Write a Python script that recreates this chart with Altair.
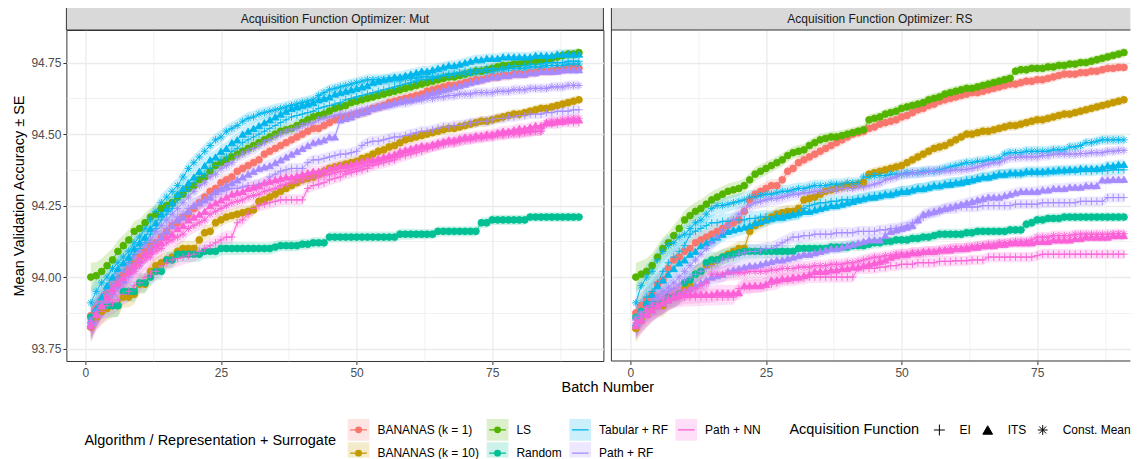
import altair as alt
import pandas as pd

# ---------------- data ----------------
batches = list(range(1, 92))
strip_labels = {"Mut": "Acquisition Function Optimizer: Mut", "RS": "Acquisition Function Optimizer: RS"}
algorithms = ["BANANAS (k = 1)", "BANANAS (k = 10)", "LS", "Random", "Tabular + RF", "Path + RF", "Path + NN"]
colors = ["#F8766D", "#C49A00", "#53B400", "#00C094", "#00B6EB", "#A58AFF", "#FB61D7"]
acq_functions = ["EI", "ITS", "Const. Mean"]
x_ticks = [0, 25, 50, 75]
x_minor = [12.5, 37.5, 62.5, 87.5]
y_ticks = [93.75, 94.0, 94.25, 94.5, 94.75]
y_minor = [93.875, 94.125, 94.375, 94.625]

se = [0.050, 0.047, 0.045, 0.043, 0.041, 0.039, 0.037, 0.036, 0.035, 0.034,
      0.033, 0.032, 0.031, 0.030, 0.029, 0.029, 0.028, 0.027, 0.027, 0.026,
      0.026, 0.025, 0.025, 0.024, 0.024, 0.023, 0.023, 0.023, 0.022, 0.022,
      0.022, 0.021, 0.021, 0.021, 0.021, 0.020, 0.020, 0.020, 0.020, 0.020,
      0.019, 0.019, 0.019, 0.019, 0.019, 0.019, 0.019, 0.019, 0.019, 0.019,
      0.019, 0.019, 0.019, 0.019, 0.019, 0.019, 0.019, 0.019, 0.019, 0.019,
      0.018, 0.018, 0.018, 0.018, 0.018, 0.018, 0.018, 0.018, 0.018, 0.018,
      0.018, 0.018, 0.018, 0.018, 0.018, 0.018, 0.018, 0.018, 0.018, 0.018,
      0.017, 0.017, 0.017, 0.017, 0.017, 0.017, 0.017, 0.017, 0.017, 0.017, 0.017]

# ---- optimizer: Mut ----
mut_bananas1 = [93.865, 93.89, 93.92, 93.94, 93.97, 93.99, 94.01, 94.03, 94.05, 94.07,
    94.09, 94.11, 94.12, 94.14, 94.16, 94.18, 94.19, 94.21, 94.22, 94.24,
    94.26, 94.28, 94.30, 94.31, 94.33, 94.34, 94.35, 94.37, 94.38, 94.39,
    94.40, 94.41, 94.43, 94.44, 94.45, 94.46, 94.47, 94.48, 94.49, 94.50,
    94.51, 94.52, 94.52, 94.53, 94.54, 94.55, 94.555, 94.56, 94.565, 94.57,
    94.575, 94.58, 94.59, 94.595, 94.60, 94.61, 94.615, 94.62, 94.625, 94.63,
    94.635, 94.64, 94.65, 94.655, 94.66, 94.665, 94.67, 94.67, 94.675, 94.68,
    94.685, 94.69, 94.69, 94.695, 94.70, 94.70, 94.705, 94.705, 94.71, 94.71,
    94.71, 94.715, 94.715, 94.72, 94.72, 94.72, 94.725, 94.725, 94.73, 94.73, 94.73]
mut_bananas10 = [93.825, 93.86, 93.88, 93.89, 93.90, 93.90, 93.93, 93.93, 93.94, 93.975,
    93.975, 94.02, 94.04, 94.05, 94.06, 94.07, 94.09, 94.10, 94.10, 94.10,
    94.13, 94.155, 94.16, 94.19, 94.20, 94.21, 94.215, 94.22, 94.225, 94.23,
    94.235, 94.265, 94.27, 94.28, 94.29, 94.30, 94.31, 94.32, 94.33, 94.34,
    94.345, 94.35, 94.36, 94.37, 94.38, 94.385, 94.39, 94.395, 94.40, 94.405,
    94.415, 94.42, 94.43, 94.44, 94.445, 94.455, 94.46, 94.47, 94.48, 94.485,
    94.49, 94.495, 94.50, 94.505, 94.51, 94.515, 94.52, 94.52, 94.525, 94.53,
    94.535, 94.54, 94.545, 94.545, 94.55, 94.555, 94.56, 94.565, 94.57, 94.57,
    94.575, 94.58, 94.585, 94.59, 94.59, 94.595, 94.60, 94.605, 94.61, 94.615, 94.62]
mut_ls = [94.00, 94.005, 94.02, 94.04, 94.06, 94.09, 94.11, 94.13, 94.16, 94.17,
    94.19, 94.21, 94.22, 94.24, 94.25, 94.26, 94.28, 94.29, 94.31, 94.32,
    94.34, 94.35, 94.37, 94.39, 94.40, 94.41, 94.42, 94.43, 94.44, 94.45,
    94.46, 94.47, 94.48, 94.49, 94.50, 94.51, 94.515, 94.52, 94.53, 94.54,
    94.55, 94.56, 94.565, 94.57, 94.58, 94.59, 94.595, 94.60, 94.61, 94.615,
    94.62, 94.625, 94.63, 94.635, 94.64, 94.645, 94.65, 94.655, 94.66, 94.665,
    94.67, 94.675, 94.68, 94.685, 94.69, 94.695, 94.70, 94.70, 94.705, 94.71,
    94.715, 94.72, 94.72, 94.725, 94.73, 94.735, 94.74, 94.74, 94.745, 94.745,
    94.75, 94.755, 94.755, 94.76, 94.76, 94.765, 94.77, 94.775, 94.78, 94.78, 94.785]
mut_random = [93.86, 93.88, 93.90, 93.90, 93.90, 93.90, 93.95, 93.95, 93.95, 93.98,
    93.98, 94.00, 94.02, 94.02, 94.06, 94.06, 94.08, 94.08, 94.08, 94.08,
    94.08, 94.09, 94.09, 94.09, 94.10, 94.10, 94.10, 94.10, 94.10, 94.10,
    94.10, 94.10, 94.10, 94.10, 94.105, 94.11, 94.11, 94.11, 94.11, 94.115,
    94.115, 94.12, 94.12, 94.12, 94.14, 94.14, 94.14, 94.14, 94.14, 94.14,
    94.14, 94.14, 94.14, 94.14, 94.14, 94.14, 94.14, 94.15, 94.15, 94.15,
    94.15, 94.15, 94.15, 94.15, 94.16, 94.16, 94.16, 94.16, 94.16, 94.16,
    94.16, 94.16, 94.19, 94.19, 94.20, 94.20, 94.20, 94.20, 94.20, 94.20,
    94.20, 94.21, 94.21, 94.21, 94.21, 94.21, 94.21, 94.21, 94.21, 94.21, 94.21]
mut_tab_ei = [93.83, 93.87, 93.90, 93.94, 93.97, 94.00, 94.02, 94.05, 94.08, 94.10,
    94.12, 94.15, 94.17, 94.20, 94.22, 94.24, 94.27, 94.29, 94.31, 94.33,
    94.35, 94.36, 94.38, 94.39, 94.41, 94.42, 94.44, 94.45, 94.47, 94.48,
    94.49, 94.50, 94.51, 94.52, 94.53, 94.54, 94.55, 94.56, 94.565, 94.57,
    94.575, 94.58, 94.59, 94.595, 94.60, 94.605, 94.61, 94.62, 94.625, 94.63,
    94.635, 94.64, 94.645, 94.65, 94.655, 94.66, 94.665, 94.67, 94.675, 94.68,
    94.685, 94.69, 94.69, 94.695, 94.70, 94.705, 94.71, 94.71, 94.715, 94.72,
    94.72, 94.725, 94.725, 94.73, 94.73, 94.73, 94.735, 94.735, 94.74, 94.74,
    94.74, 94.745, 94.745, 94.745, 94.75, 94.75, 94.75, 94.75, 94.755, 94.755, 94.755]
mut_tab_its = [93.85, 93.89, 93.93, 93.97, 94.00, 94.03, 94.05, 94.07, 94.10, 94.12,
    94.14, 94.17, 94.19, 94.22, 94.24, 94.26, 94.29, 94.31, 94.33, 94.35,
    94.37, 94.39, 94.41, 94.42, 94.44, 94.45, 94.47, 94.48, 94.50, 94.51,
    94.52, 94.53, 94.54, 94.55, 94.56, 94.57, 94.58, 94.59, 94.595, 94.60,
    94.605, 94.61, 94.62, 94.625, 94.63, 94.64, 94.645, 94.65, 94.655, 94.66,
    94.665, 94.67, 94.68, 94.685, 94.69, 94.695, 94.70, 94.70, 94.705, 94.71,
    94.715, 94.72, 94.72, 94.725, 94.73, 94.735, 94.74, 94.74, 94.745, 94.75,
    94.755, 94.76, 94.76, 94.765, 94.765, 94.765, 94.77, 94.77, 94.77, 94.77,
    94.77, 94.77, 94.775, 94.775, 94.775, 94.775, 94.78, 94.78, 94.78, 94.78, 94.78]
mut_tab_cm = [93.91, 93.95, 93.98, 94.00, 94.03, 94.05, 94.07, 94.09, 94.12, 94.14,
    94.17, 94.20, 94.23, 94.26, 94.28, 94.30, 94.32, 94.35, 94.38, 94.40,
    94.42, 94.44, 94.46, 94.48, 94.49, 94.51, 94.52, 94.53, 94.545, 94.555,
    94.56, 94.57, 94.575, 94.58, 94.585, 94.59, 94.595, 94.60, 94.605, 94.61,
    94.615, 94.62, 94.635, 94.645, 94.655, 94.66, 94.665, 94.67, 94.675, 94.68,
    94.685, 94.69, 94.69, 94.69, 94.69, 94.69, 94.69, 94.69, 94.695, 94.695,
    94.695, 94.70, 94.70, 94.70, 94.70, 94.705, 94.705, 94.71, 94.71, 94.71,
    94.715, 94.715, 94.72, 94.72, 94.72, 94.725, 94.725, 94.73, 94.73, 94.73,
    94.73, 94.735, 94.735, 94.735, 94.74, 94.74, 94.74, 94.74, 94.745, 94.745, 94.745]
mut_prf_ei = [93.84, 93.87, 93.90, 93.92, 93.94, 93.96, 93.98, 94.00, 94.03, 94.05,
    94.08, 94.10, 94.12, 94.15, 94.17, 94.19, 94.21, 94.22, 94.24, 94.25,
    94.26, 94.27, 94.28, 94.29, 94.30, 94.305, 94.31, 94.31, 94.315, 94.32,
    94.32, 94.325, 94.33, 94.35, 94.36, 94.37, 94.375, 94.38, 94.38, 94.38,
    94.40, 94.41, 94.41, 94.415, 94.42, 94.425, 94.43, 94.43, 94.435, 94.44,
    94.46, 94.47, 94.475, 94.475, 94.48, 94.485, 94.49, 94.49, 94.495, 94.50,
    94.505, 94.51, 94.51, 94.515, 94.52, 94.525, 94.525, 94.53, 94.53, 94.535,
    94.54, 94.54, 94.545, 94.545, 94.55, 94.555, 94.555, 94.56, 94.56, 94.565,
    94.565, 94.57, 94.57, 94.57, 94.575, 94.575, 94.58, 94.58, 94.58, 94.585, 94.585]
mut_prf_its = [93.84, 93.87, 93.90, 93.92, 93.95, 93.97, 93.99, 94.02, 94.04, 94.06,
    94.08, 94.10, 94.12, 94.14, 94.16, 94.18, 94.20, 94.21, 94.23, 94.25,
    94.26, 94.27, 94.28, 94.30, 94.31, 94.32, 94.33, 94.34, 94.35, 94.36,
    94.37, 94.38, 94.385, 94.39, 94.40, 94.41, 94.42, 94.43, 94.44, 94.45,
    94.46, 94.47, 94.475, 94.48, 94.49, 94.49, 94.55, 94.555, 94.56, 94.57,
    94.575, 94.58, 94.59, 94.595, 94.60, 94.605, 94.61, 94.615, 94.62, 94.62,
    94.625, 94.63, 94.64, 94.645, 94.65, 94.655, 94.66, 94.665, 94.67, 94.675,
    94.68, 94.685, 94.69, 94.695, 94.70, 94.70, 94.705, 94.705, 94.71, 94.71,
    94.71, 94.715, 94.715, 94.72, 94.72, 94.72, 94.72, 94.725, 94.725, 94.725, 94.725]
mut_prf_cm = [93.85, 93.88, 93.91, 93.94, 93.97, 93.99, 94.02, 94.04, 94.07, 94.09,
    94.11, 94.13, 94.16, 94.18, 94.20, 94.22, 94.24, 94.26, 94.28, 94.30,
    94.32, 94.33, 94.35, 94.36, 94.38, 94.39, 94.40, 94.42, 94.43, 94.44,
    94.45, 94.46, 94.47, 94.48, 94.49, 94.50, 94.51, 94.515, 94.52, 94.53,
    94.535, 94.54, 94.55, 94.555, 94.56, 94.565, 94.57, 94.57, 94.575, 94.58,
    94.585, 94.59, 94.59, 94.595, 94.60, 94.60, 94.605, 94.61, 94.61, 94.615,
    94.62, 94.62, 94.625, 94.625, 94.63, 94.63, 94.635, 94.635, 94.64, 94.64,
    94.64, 94.645, 94.645, 94.645, 94.645, 94.65, 94.65, 94.65, 94.655, 94.655,
    94.655, 94.66, 94.66, 94.66, 94.66, 94.665, 94.665, 94.665, 94.67, 94.67, 94.67]
mut_pnn_ei = [93.82, 93.86, 93.88, 93.90, 93.91, 93.92, 93.94, 93.95, 93.97, 93.98,
    94.00, 94.01, 94.02, 94.04, 94.05, 94.06, 94.065, 94.07, 94.075, 94.08,
    94.09, 94.10, 94.11, 94.12, 94.13, 94.14, 94.14, 94.19, 94.20, 94.22,
    94.24, 94.25, 94.255, 94.26, 94.265, 94.27, 94.27, 94.27, 94.27, 94.27,
    94.31, 94.32, 94.325, 94.33, 94.34, 94.345, 94.35, 94.36, 94.365, 94.37,
    94.375, 94.38, 94.39, 94.395, 94.40, 94.405, 94.41, 94.42, 94.425, 94.43,
    94.435, 94.44, 94.45, 94.455, 94.46, 94.465, 94.47, 94.47, 94.475, 94.48,
    94.485, 94.485, 94.49, 94.49, 94.495, 94.50, 94.50, 94.50, 94.505, 94.505,
    94.505, 94.51, 94.51, 94.51, 94.535, 94.535, 94.535, 94.54, 94.54, 94.54, 94.54]
mut_pnn_its = [93.83, 93.87, 93.90, 93.93, 93.96, 93.98, 94.00, 94.02, 94.04, 94.06,
    94.08, 94.09, 94.11, 94.12, 94.14, 94.15, 94.17, 94.18, 94.20, 94.21,
    94.22, 94.23, 94.25, 94.26, 94.27, 94.28, 94.29, 94.295, 94.30, 94.31,
    94.315, 94.32, 94.33, 94.335, 94.34, 94.345, 94.35, 94.35, 94.355, 94.36,
    94.365, 94.37, 94.37, 94.375, 94.38, 94.385, 94.39, 94.39, 94.395, 94.40,
    94.405, 94.41, 94.41, 94.415, 94.42, 94.425, 94.43, 94.44, 94.445, 94.45,
    94.455, 94.46, 94.46, 94.465, 94.47, 94.475, 94.48, 94.48, 94.485, 94.49,
    94.49, 94.495, 94.495, 94.50, 94.50, 94.505, 94.51, 94.51, 94.515, 94.52,
    94.52, 94.525, 94.53, 94.53, 94.54, 94.54, 94.545, 94.545, 94.55, 94.55, 94.55]
mut_pnn_cm = [93.84, 93.87, 93.90, 93.92, 93.95, 93.97, 93.99, 94.01, 94.02, 94.04,
    94.06, 94.07, 94.09, 94.10, 94.12, 94.13, 94.14, 94.15, 94.17, 94.18,
    94.19, 94.20, 94.22, 94.23, 94.24, 94.25, 94.26, 94.265, 94.27, 94.28,
    94.285, 94.29, 94.30, 94.305, 94.31, 94.32, 94.325, 94.33, 94.335, 94.34,
    94.345, 94.35, 94.35, 94.355, 94.36, 94.365, 94.37, 94.37, 94.375, 94.38,
    94.385, 94.39, 94.40, 94.405, 94.41, 94.415, 94.42, 94.43, 94.435, 94.44,
    94.445, 94.45, 94.45, 94.455, 94.46, 94.465, 94.47, 94.47, 94.475, 94.48,
    94.48, 94.485, 94.485, 94.49, 94.49, 94.495, 94.495, 94.50, 94.50, 94.50,
    94.505, 94.505, 94.51, 94.51, 94.54, 94.545, 94.545, 94.55, 94.55, 94.555, 94.555]

# ---- optimizer: RS ----
rs_bananas1 = [93.875, 93.90, 93.92, 93.94, 93.975, 93.99, 94.03, 94.06, 94.07, 94.09,
    94.10, 94.12, 94.13, 94.14, 94.15, 94.16, 94.17, 94.18, 94.19, 94.20,
    94.23, 94.27, 94.29, 94.30, 94.31, 94.32, 94.32, 94.34, 94.37, 94.38,
    94.40, 94.41, 94.42, 94.43, 94.44, 94.45, 94.46, 94.47, 94.48, 94.49,
    94.50, 94.505, 94.51, 94.52, 94.525, 94.535, 94.54, 94.545, 94.55, 94.56,
    94.565, 94.575, 94.585, 94.59, 94.60, 94.605, 94.615, 94.62, 94.625, 94.63,
    94.635, 94.64, 94.645, 94.645, 94.65, 94.655, 94.66, 94.665, 94.67, 94.675,
    94.675, 94.68, 94.685, 94.685, 94.69, 94.69, 94.695, 94.70, 94.705, 94.71,
    94.71, 94.71, 94.715, 94.715, 94.72, 94.72, 94.725, 94.73, 94.73, 94.733, 94.733]
rs_bananas10 = [93.82, 93.85, 93.87, 93.89, 93.90, 93.90, 93.92, 93.93, 93.94, 93.96,
    93.97, 94.01, 94.02, 94.04, 94.05, 94.06, 94.07, 94.08, 94.09, 94.10,
    94.10, 94.16, 94.18, 94.19, 94.20, 94.21, 94.22, 94.225, 94.23, 94.23,
    94.24, 94.27, 94.275, 94.28, 94.29, 94.30, 94.305, 94.31, 94.315, 94.32,
    94.32, 94.325, 94.33, 94.36, 94.365, 94.37, 94.375, 94.38, 94.385, 94.39,
    94.40, 94.41, 94.42, 94.43, 94.44, 94.45, 94.455, 94.46, 94.47, 94.48,
    94.49, 94.50, 94.50, 94.505, 94.51, 94.51, 94.515, 94.52, 94.525, 94.53,
    94.53, 94.535, 94.54, 94.545, 94.55, 94.55, 94.555, 94.56, 94.565, 94.57,
    94.57, 94.575, 94.58, 94.585, 94.59, 94.595, 94.60, 94.605, 94.61, 94.615, 94.62]
rs_ls = [94.00, 94.01, 94.02, 94.04, 94.07, 94.10, 94.12, 94.145, 94.17, 94.20,
    94.215, 94.23, 94.24, 94.255, 94.27, 94.28, 94.29, 94.30, 94.305, 94.31,
    94.32, 94.34, 94.36, 94.37, 94.38, 94.39, 94.40, 94.41, 94.425, 94.435,
    94.44, 94.445, 94.46, 94.47, 94.48, 94.485, 94.49, 94.49, 94.495, 94.50,
    94.505, 94.51, 94.515, 94.55, 94.555, 94.56, 94.57, 94.575, 94.58, 94.59,
    94.595, 94.60, 94.605, 94.61, 94.62, 94.625, 94.63, 94.64, 94.645, 94.65,
    94.655, 94.66, 94.66, 94.665, 94.67, 94.675, 94.68, 94.685, 94.69, 94.695,
    94.72, 94.725, 94.725, 94.73, 94.73, 94.73, 94.735, 94.735, 94.74, 94.74,
    94.745, 94.745, 94.75, 94.75, 94.755, 94.76, 94.765, 94.77, 94.775, 94.78, 94.785]
rs_random = [93.86, 93.88, 93.905, 93.905, 93.905, 93.91, 93.93, 93.93, 93.94, 93.98,
    93.99, 94.01, 94.02, 94.05, 94.06, 94.06, 94.07, 94.075, 94.08, 94.085,
    94.09, 94.09, 94.09, 94.09, 94.09, 94.09, 94.09, 94.09, 94.09, 94.09,
    94.10, 94.10, 94.10, 94.10, 94.10, 94.10, 94.105, 94.105, 94.105, 94.105,
    94.11, 94.11, 94.11, 94.115, 94.12, 94.12, 94.125, 94.125, 94.13, 94.13,
    94.13, 94.135, 94.135, 94.14, 94.14, 94.145, 94.15, 94.15, 94.15, 94.15,
    94.15, 94.155, 94.155, 94.16, 94.16, 94.16, 94.16, 94.16, 94.16, 94.165,
    94.165, 94.165, 94.185, 94.19, 94.20, 94.20, 94.205, 94.205, 94.205, 94.21,
    94.21, 94.21, 94.21, 94.21, 94.21, 94.21, 94.21, 94.21, 94.21, 94.21, 94.21]
rs_tab_ei = [93.83, 93.88, 93.93, 93.95, 93.98, 94.02, 94.05, 94.07, 94.09, 94.11,
    94.15, 94.16, 94.17, 94.18, 94.19, 94.19, 94.195, 94.195, 94.20, 94.20,
    94.20, 94.205, 94.205, 94.21, 94.21, 94.21, 94.215, 94.215, 94.22, 94.22,
    94.22, 94.24, 94.25, 94.255, 94.26, 94.26, 94.265, 94.265, 94.27, 94.27,
    94.27, 94.275, 94.275, 94.28, 94.285, 94.285, 94.29, 94.29, 94.295, 94.30,
    94.30, 94.305, 94.31, 94.31, 94.315, 94.32, 94.32, 94.325, 94.33, 94.33,
    94.335, 94.34, 94.34, 94.345, 94.35, 94.35, 94.355, 94.36, 94.36, 94.36,
    94.36, 94.36, 94.365, 94.365, 94.365, 94.365, 94.365, 94.37, 94.37, 94.37,
    94.37, 94.37, 94.37, 94.37, 94.37, 94.372, 94.372, 94.372, 94.375, 94.375, 94.375]
rs_tab_its = [93.84, 93.87, 93.91, 93.94, 93.97, 93.99, 94.01, 94.03, 94.05, 94.06,
    94.08, 94.09, 94.11, 94.12, 94.13, 94.14, 94.15, 94.16, 94.165, 94.17,
    94.175, 94.18, 94.19, 94.195, 94.20, 94.205, 94.21, 94.21, 94.215, 94.22,
    94.225, 94.23, 94.23, 94.235, 94.24, 94.245, 94.25, 94.25, 94.255, 94.26,
    94.265, 94.27, 94.275, 94.28, 94.28, 94.285, 94.29, 94.29, 94.295, 94.30,
    94.30, 94.305, 94.31, 94.31, 94.315, 94.32, 94.32, 94.325, 94.325, 94.33,
    94.33, 94.335, 94.34, 94.345, 94.35, 94.35, 94.355, 94.36, 94.36, 94.365,
    94.365, 94.365, 94.37, 94.37, 94.37, 94.37, 94.372, 94.372, 94.375, 94.375,
    94.377, 94.377, 94.38, 94.38, 94.38, 94.38, 94.383, 94.39, 94.39, 94.394, 94.394]
rs_tab_cm = [93.91, 93.97, 94.00, 94.02, 94.06, 94.09, 94.11, 94.12, 94.14, 94.15,
    94.17, 94.19, 94.20, 94.22, 94.24, 94.25, 94.25, 94.255, 94.26, 94.265,
    94.27, 94.28, 94.28, 94.285, 94.29, 94.29, 94.295, 94.30, 94.30, 94.305,
    94.31, 94.31, 94.315, 94.32, 94.32, 94.32, 94.325, 94.325, 94.325, 94.33,
    94.33, 94.33, 94.35, 94.35, 94.355, 94.355, 94.355, 94.36, 94.36, 94.36,
    94.365, 94.365, 94.365, 94.37, 94.37, 94.37, 94.375, 94.38, 94.385, 94.39,
    94.395, 94.40, 94.40, 94.405, 94.405, 94.41, 94.41, 94.415, 94.43, 94.435,
    94.435, 94.435, 94.44, 94.44, 94.44, 94.44, 94.44, 94.445, 94.445, 94.445,
    94.455, 94.455, 94.46, 94.47, 94.47, 94.475, 94.48, 94.48, 94.48, 94.48, 94.48]
rs_prf_ei = [93.85, 93.87, 93.89, 93.90, 93.92, 93.93, 93.95, 93.96, 93.975, 93.99,
    94.00, 94.01, 94.02, 94.03, 94.04, 94.05, 94.06, 94.065, 94.07, 94.08,
    94.085, 94.09, 94.09, 94.095, 94.10, 94.10, 94.11, 94.12, 94.13, 94.14,
    94.14, 94.145, 94.145, 94.15, 94.15, 94.15, 94.15, 94.155, 94.155, 94.155,
    94.155, 94.16, 94.16, 94.16, 94.16, 94.165, 94.165, 94.17, 94.17, 94.175,
    94.18, 94.19, 94.20, 94.21, 94.22, 94.225, 94.23, 94.24, 94.24, 94.24,
    94.245, 94.245, 94.245, 94.245, 94.25, 94.25, 94.25, 94.25, 94.25, 94.25,
    94.255, 94.255, 94.255, 94.255, 94.255, 94.26, 94.26, 94.26, 94.26, 94.26,
    94.26, 94.26, 94.265, 94.265, 94.265, 94.265, 94.265, 94.278, 94.278, 94.278, 94.278]
rs_prf_its = [93.84, 93.855, 93.87, 93.885, 93.90, 93.91, 93.92, 93.93, 93.94, 93.95,
    93.96, 93.97, 93.98, 93.99, 94.00, 94.005, 94.01, 94.02, 94.025, 94.03,
    94.035, 94.04, 94.04, 94.045, 94.05, 94.055, 94.06, 94.06, 94.065, 94.07,
    94.075, 94.08, 94.08, 94.085, 94.09, 94.095, 94.10, 94.10, 94.105, 94.11,
    94.115, 94.12, 94.125, 94.13, 94.13, 94.13, 94.145, 94.16, 94.165, 94.17,
    94.175, 94.18, 94.20, 94.22, 94.225, 94.23, 94.235, 94.24, 94.245, 94.25,
    94.255, 94.26, 94.265, 94.27, 94.275, 94.28, 94.28, 94.28, 94.285, 94.29,
    94.295, 94.30, 94.30, 94.30, 94.30, 94.305, 94.305, 94.31, 94.31, 94.31,
    94.315, 94.315, 94.315, 94.32, 94.32, 94.32, 94.34, 94.34, 94.342, 94.342, 94.342]
rs_prf_cm = [93.86, 93.875, 93.89, 93.91, 93.93, 93.95, 93.965, 93.98, 94.00, 94.02,
    94.04, 94.06, 94.08, 94.10, 94.12, 94.14, 94.16, 94.18, 94.20, 94.22,
    94.235, 94.25, 94.26, 94.265, 94.27, 94.275, 94.275, 94.28, 94.285, 94.29,
    94.29, 94.295, 94.295, 94.30, 94.30, 94.30, 94.305, 94.305, 94.31, 94.31,
    94.31, 94.315, 94.315, 94.32, 94.325, 94.33, 94.34, 94.345, 94.35, 94.36,
    94.36, 94.365, 94.365, 94.365, 94.37, 94.37, 94.37, 94.372, 94.372, 94.375,
    94.375, 94.377, 94.38, 94.385, 94.39, 94.395, 94.40, 94.40, 94.41, 94.418,
    94.418, 94.42, 94.42, 94.42, 94.42, 94.425, 94.425, 94.43, 94.43, 94.43,
    94.43, 94.43, 94.432, 94.432, 94.435, 94.435, 94.435, 94.44, 94.44, 94.443, 94.443]
rs_pnn_ei = [93.84, 93.86, 93.88, 93.89, 93.90, 93.91, 93.92, 93.925, 93.93, 93.93,
    93.93, 93.93, 93.93, 93.93, 93.93, 93.93, 93.93, 93.93, 93.93, 93.96,
    93.965, 93.965, 93.97, 93.97, 93.975, 93.975, 93.98, 93.99, 93.99, 93.99,
    93.995, 93.995, 94.00, 94.00, 94.00, 94.00, 94.00, 94.00, 94.00, 94.00,
    94.00, 94.03, 94.03, 94.03, 94.03, 94.035, 94.035, 94.04, 94.04, 94.045,
    94.045, 94.045, 94.05, 94.05, 94.05, 94.05, 94.055, 94.055, 94.055, 94.057,
    94.057, 94.057, 94.06, 94.06, 94.06, 94.07, 94.07, 94.07, 94.07, 94.07,
    94.07, 94.07, 94.07, 94.07, 94.075, 94.08, 94.08, 94.08, 94.08, 94.08,
    94.08, 94.08, 94.08, 94.08, 94.08, 94.08, 94.08, 94.08, 94.08, 94.08, 94.08]
rs_pnn_its = [93.83, 93.85, 93.87, 93.885, 93.90, 93.91, 93.92, 93.93, 93.935, 93.94,
    93.94, 93.94, 93.94, 93.94, 93.94, 93.945, 93.945, 93.945, 93.945, 93.945,
    93.97, 93.97, 93.97, 93.97, 93.975, 93.99, 93.99, 93.995, 93.995, 94.00,
    94.00, 94.005, 94.01, 94.02, 94.02, 94.02, 94.025, 94.025, 94.03, 94.03,
    94.035, 94.035, 94.04, 94.045, 94.05, 94.055, 94.06, 94.07, 94.075, 94.08,
    94.08, 94.085, 94.085, 94.09, 94.09, 94.09, 94.095, 94.095, 94.095, 94.10,
    94.10, 94.10, 94.105, 94.105, 94.11, 94.11, 94.11, 94.115, 94.115, 94.12,
    94.12, 94.12, 94.12, 94.12, 94.125, 94.125, 94.125, 94.13, 94.13, 94.13,
    94.13, 94.135, 94.135, 94.14, 94.14, 94.14, 94.14, 94.14, 94.145, 94.145, 94.145]
rs_pnn_cm = [93.85, 93.87, 93.89, 93.90, 93.91, 93.92, 93.93, 93.94, 93.945, 93.95,
    93.955, 93.96, 93.97, 93.98, 94.01, 94.01, 94.01, 94.015, 94.015, 94.015,
    94.015, 94.02, 94.02, 94.02, 94.02, 94.025, 94.025, 94.03, 94.03, 94.03,
    94.035, 94.035, 94.035, 94.04, 94.04, 94.04, 94.045, 94.045, 94.045, 94.05,
    94.05, 94.055, 94.06, 94.065, 94.07, 94.07, 94.075, 94.075, 94.08, 94.08,
    94.08, 94.085, 94.085, 94.085, 94.09, 94.09, 94.09, 94.095, 94.10, 94.10,
    94.10, 94.105, 94.105, 94.11, 94.11, 94.115, 94.115, 94.12, 94.12, 94.12,
    94.125, 94.125, 94.125, 94.13, 94.14, 94.14, 94.14, 94.145, 94.145, 94.145,
    94.145, 94.15, 94.15, 94.15, 94.15, 94.15, 94.15, 94.15, 94.152, 94.152, 94.152]

series = [
    ("Mut", "BANANAS (k = 1)", "none", mut_bananas1),
    ("Mut", "BANANAS (k = 10)", "none", mut_bananas10),
    ("Mut", "LS", "none", mut_ls),
    ("Mut", "Random", "none", mut_random),
    ("Mut", "Tabular + RF", "EI", mut_tab_ei),
    ("Mut", "Tabular + RF", "ITS", mut_tab_its),
    ("Mut", "Tabular + RF", "Const. Mean", mut_tab_cm),
    ("Mut", "Path + RF", "EI", mut_prf_ei),
    ("Mut", "Path + RF", "ITS", mut_prf_its),
    ("Mut", "Path + RF", "Const. Mean", mut_prf_cm),
    ("Mut", "Path + NN", "EI", mut_pnn_ei),
    ("Mut", "Path + NN", "ITS", mut_pnn_its),
    ("Mut", "Path + NN", "Const. Mean", mut_pnn_cm),
    ("RS", "BANANAS (k = 1)", "none", rs_bananas1),
    ("RS", "BANANAS (k = 10)", "none", rs_bananas10),
    ("RS", "LS", "none", rs_ls),
    ("RS", "Random", "none", rs_random),
    ("RS", "Tabular + RF", "EI", rs_tab_ei),
    ("RS", "Tabular + RF", "ITS", rs_tab_its),
    ("RS", "Tabular + RF", "Const. Mean", rs_tab_cm),
    ("RS", "Path + RF", "EI", rs_prf_ei),
    ("RS", "Path + RF", "ITS", rs_prf_its),
    ("RS", "Path + RF", "Const. Mean", rs_prf_cm),
    ("RS", "Path + NN", "EI", rs_pnn_ei),
    ("RS", "Path + NN", "ITS", rs_pnn_its),
    ("RS", "Path + NN", "Const. Mean", rs_pnn_cm),
]

rows = []
for k, (opt, algo, af, vals) in enumerate(series):
    sid = f"{k:02d} {opt} {algo} {af}"
    for b, v, s in zip(batches, vals, se):
        rows.append(dict(opt=opt, algo=algo, af=af, series=sid, order=k,
                         batch=b, value=v, lo=v - s, hi=v + s))
df = pd.DataFrame(rows)

# ---------------- styling / layout ----------------
FONT = "Liberation Sans"
BORDER = "#333333"
PW = 537            # panel width (px)
PW_R = 519          # right panel visible width (the original is cropped at the right)
PH = 331
SH = 23
GAP = 8
XMIN, XMAX = -3.5, 95.5
YMIN, YMAX = 93.7066, 94.864
ppu = PW / (XMAX - XMIN)
XMAX_R = XMIN + PW_R / ppu

PLUS = "M-1,0L1,0M0,-1L0,1"
STAR = "M-1,0L1,0M0,-1L0,1M-0.72,-0.72L0.72,0.72M-0.72,0.72L0.72,-0.72"
shape_keys = ["none", "EI", "ITS", "Const. Mean"]
shape_paths = ["circle", PLUS, "triangle-up", STAR]
shape_sizes = [46, 55, 52, 55]

color_scale = alt.Scale(domain=algorithms, range=colors)
shape_scale = alt.Scale(domain=shape_keys, range=shape_paths)
size_scale = alt.Scale(type="ordinal", domain=shape_keys, range=shape_sizes)

x_values = sorted(x_ticks + x_minor)
y_values = sorted(y_ticks + y_minor)
X_MINOR = "datum.value % 25 != 0"
Y_MINOR = "abs(datum.value * 4 - round(datum.value * 4)) > 0.001"

common_axis = dict(grid=True, gridColor="#EBEBEB", domain=False,
                   labelFont=FONT, labelFontSize=12, labelColor="#4D4D4D",
                   titleFont=FONT, titleFontSize=14.5, titleColor="#000000",
                   titleFontWeight="normal", tickSize=3.5, tickWidth=1)


def x_axis(with_title):
    kw = dict(common_axis)
    kw.update(values=x_values,
              labelExpr=f"({X_MINOR}) ? '' : format(datum.value, 'd')",
              gridWidth={"condition": {"test": X_MINOR, "value": 0.7}, "value": 1.3},
              tickColor={"condition": {"test": X_MINOR, "value": "transparent"}, "value": BORDER},
              labelPadding=3, labelFlush=False, labelOverlap=False)
    if with_title:
        kw.update(title="Batch Number", titleX=(PW + GAP + PW) / 2, titlePadding=2)
    else:
        kw.update(title=None)
    return alt.Axis(**kw)


def y_axis(with_labels):
    kw = dict(common_axis)
    kw.update(values=y_values,
              gridWidth={"condition": {"test": Y_MINOR, "value": 0.7}, "value": 1.3})
    if with_labels:
        kw.update(labelExpr=f"({Y_MINOR}) ? '' : format(datum.value, '.2f')",
                  tickColor={"condition": {"test": Y_MINOR, "value": "transparent"}, "value": BORDER},
                  labelPadding=2, title="Mean Validation Accuracy ± SE", titlePadding=4,
                  labelOverlap=False)
    else:
        kw.update(labels=False, ticks=False, title=None)
    return alt.Axis(**kw)


# ---------------- manual legend (drawn below the left panel) ----------------
KEY = 21.7
BOTTOM_LIMIT = 427.5
leg_col_x = [281.3, 420.3, 503.0, 609.0]
leg_row_y = [389.0, 412.3]
circle_algos = ["BANANAS (k = 1)", "BANANAS (k = 10)", "LS", "Random"]
key_rows = []
for i, (name, col) in enumerate(zip(algorithms, colors)):
    c, r = divmod(i, 2)
    x0, y0 = leg_col_x[c], leg_row_y[r]
    key_rows.append(dict(name=name, col=col, x0=x0, x1=x0 + KEY, y0=y0,
                         y1=min(y0 + KEY, BOTTOM_LIMIT),
                         xc=x0 + KEY / 2, yc=y0 + KEY / 2, lx0=x0 + 2.5, lx1=x0 + KEY - 2.5,
                         tx=x0 + 29.7, pt=name in circle_algos))
keys = pd.DataFrame(key_rows)

shape_leg = pd.DataFrame(dict(
    name=acq_functions,
    shp=[PLUS, "triangle-up", STAR],
    sz=[120, 95, 95],
    sx=[873.0, 921.3, 976.3],
))
shape_leg["tx"] = shape_leg["sx"] + 20
shape_leg["sy"] = 400.0
titles = pd.DataFrame(dict(t=["Algorithm / Representation + Surrogate", "Acquisition Function"],
                           x=[18.0, 723.0], y=[411.0, 400.0]))

lx = alt.Scale(domain=[0, PW], nice=False, zero=False)
ly = alt.Scale(domain=[0, PH], nice=False, zero=False, reverse=True)


def LX(f):
    return alt.X(f, scale=lx, axis=None)


def LY(f):
    return alt.Y(f, scale=ly, axis=None)


def legend_layers():
    kb = alt.Chart(keys)
    box = kb.mark_rect(opacity=0.2).encode(
        x=LX("x0:Q"), x2="x1:Q", y=LY("y0:Q"), y2="y1:Q", fill=alt.Fill("col:N", scale=None))
    line = kb.mark_rule(strokeWidth=1.3).encode(
        x=LX("lx0:Q"), x2="lx1:Q", y=LY("yc:Q"), color=alt.Color("col:N", scale=None))
    pt = kb.transform_filter("datum.pt").mark_point(filled=True, opacity=1, size=48).encode(
        x=LX("xc:Q"), y=LY("yc:Q"), color=alt.Color("col:N", scale=None))
    txt = kb.mark_text(font=FONT, fontSize=12, align="left", baseline="middle", color="#000000").encode(
        x=LX("tx:Q"), y=LY("yc:Q"), text="name:N")
    sb = alt.Chart(shape_leg)
    shp = sb.mark_point(filled=True, fill="#000000", stroke="#000000", strokeWidth=1, opacity=1).encode(
        x=LX("sx:Q"), y=LY("sy:Q"), shape=alt.Shape("shp:N", scale=None), size=alt.Size("sz:Q", scale=None))
    shp_txt = sb.mark_text(font=FONT, fontSize=12, align="left", baseline="middle", color="#000000").encode(
        x=LX("tx:Q"), y=LY("sy:Q"), text="name:N")
    ttl = alt.Chart(titles).mark_text(font=FONT, fontSize=14.5, align="left", baseline="middle",
                                      color="#000000").encode(
        x=LX("x:Q"), y=LY("y:Q"), text="t:N")
    return [box, line, pt, txt, shp, shp_txt, ttl]


def strip_layers(opt, width, closed):
    data = alt.Data(values=[{"label": strip_labels[opt]}])
    layers = []
    if closed:
        layers.append(alt.Chart(data).mark_rect(fill="#D9D9D9", stroke=BORDER, strokeWidth=1).encode(
            x=alt.value(0), x2=alt.value(width), y=alt.value(-SH), y2=alt.value(0)))
    else:
        # right panel: the original picture is cut at the right edge, so no right-hand border
        layers.append(alt.Chart(data).mark_rect(fill="#D9D9D9").encode(
            x=alt.value(0), x2=alt.value(width), y=alt.value(-SH), y2=alt.value(0)))
        rule = alt.Chart(data).mark_rule(color=BORDER, strokeWidth=1)
        layers.append(rule.encode(x=alt.value(0), y=alt.value(-SH), y2=alt.value(PH)))
        for yv in (-SH, 0, PH):
            layers.append(rule.encode(x=alt.value(0), x2=alt.value(width), y=alt.value(yv)))
    layers.append(alt.Chart(data).mark_text(font=FONT, fontSize=12, color="#1A1A1A",
                                            align="center", baseline="middle").encode(
        x=alt.value(PW / 2), y=alt.value(-SH / 2 + 0.5), text="label:N"))
    return layers


def panel(opt, first):
    d = df[df.opt == opt]
    width = PW if first else PW_R
    xmax = XMAX if first else XMAX_R
    xs = alt.Scale(domain=[XMIN, xmax], nice=False, zero=False)
    ys = alt.Scale(domain=[YMIN, YMAX], nice=False, zero=False)
    base = alt.Chart(d)
    band = base.mark_area(opacity=0.2, clip=True).encode(
        x=alt.X("batch:Q", scale=xs, axis=x_axis(first)),
        y=alt.Y("lo:Q", scale=ys, axis=y_axis(first)),
        y2="hi:Q",
        fill=alt.Fill("algo:N", scale=color_scale, legend=None),
        detail="series:N",
    )
    line = base.mark_line(strokeWidth=1, clip=True).encode(
        x=alt.X("batch:Q", scale=xs, axis=None),
        y=alt.Y("value:Q", scale=ys, axis=None),
        stroke=alt.Stroke("algo:N", scale=color_scale, legend=None),
        detail="series:N",
    )
    pts = base.mark_point(filled=True, opacity=1, strokeWidth=0.9, clip=True).encode(
        x=alt.X("batch:Q", scale=xs, axis=None),
        y=alt.Y("value:Q", scale=ys, axis=None),
        fill=alt.Fill("algo:N", scale=color_scale, legend=None),
        stroke=alt.Stroke("algo:N", scale=color_scale, legend=None),
        shape=alt.Shape("af:N", scale=shape_scale, legend=None),
        size=alt.Size("af:N", scale=size_scale, legend=None),
        order=alt.Order("order:Q"),
    )
    layers = [band, line, pts] + strip_layers(opt, width, first)
    if first:
        layers += legend_layers()
    ch = alt.layer(*layers).resolve_scale(x="independent", y="independent").properties(
        width=width, height=PH)
    if not first:
        ch = ch.properties(view=alt.ViewBackground(stroke="transparent"))
    return ch


# ---------------- assemble ----------------
chart = alt.hconcat(panel("Mut", True), panel("RS", False), spacing=GAP, bounds="flush").resolve_scale(
    x="independent", y="independent").properties(
    padding={"left": 2.4, "top": -2, "right": 0, "bottom": 0}, background="white"
).configure(font=FONT).configure_view(stroke=BORDER, strokeWidth=1)

chart.save("out.html", embed_options={"renderer": "svg", "actions": False})
